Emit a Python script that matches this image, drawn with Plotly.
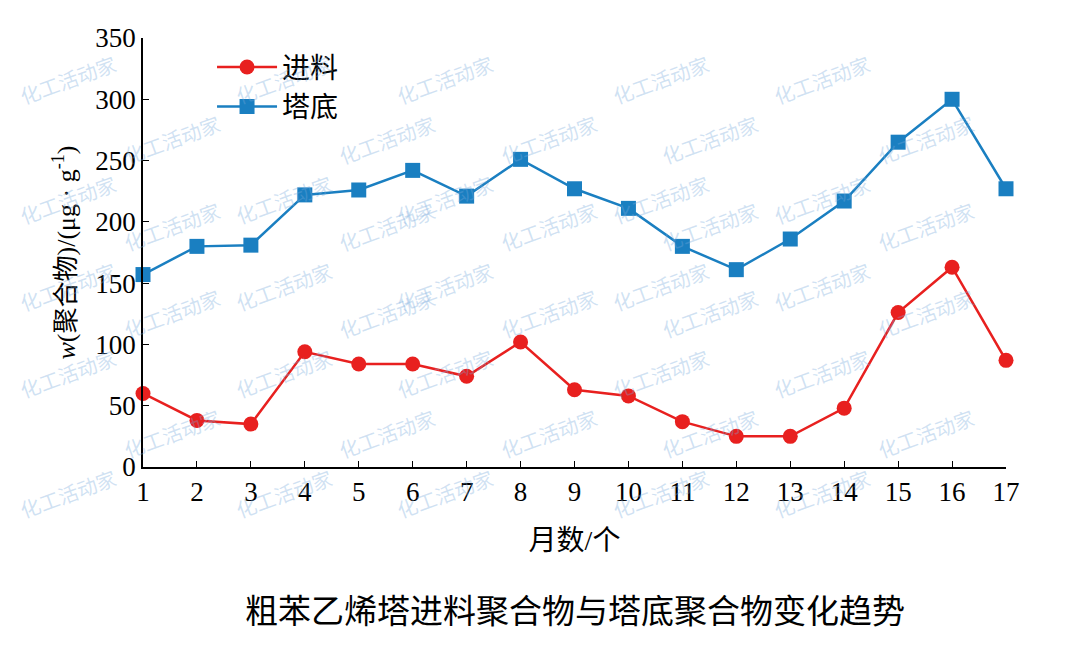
import plotly.graph_objects as go

months = list(range(1, 18))
feed = [60, 38, 35, 94, 84, 84, 74, 102, 63, 58, 37, 25, 25, 48, 126, 163, 87]
bottom = [157, 180, 181, 222, 226, 242, 221, 251, 227, 211, 180, 161, 186, 217, 265, 300, 227]

serif = "Liberation Serif, Noto Sans CJK SC"
fig = go.Figure()
fig.add_trace(go.Scatter(x=months, y=feed, name="进料", mode="lines+markers", cliponaxis=False,
                         line=dict(color="#e8201f", width=2.5),
                         marker=dict(symbol="circle", size=15, color="#e8201f")))
fig.add_trace(go.Scatter(x=months, y=bottom, name="塔底", mode="lines+markers", cliponaxis=False,
                         line=dict(color="#1a7fc1", width=2.5),
                         marker=dict(symbol="square", size=15, color="#1a7fc1")))

# watermarks
marks = []
for row, yy in enumerate([0.98, 0.84, 0.70, 0.56, 0.42, 0.28, 0.14, 0.0, -0.14]):
    off = (row % 2) * 0.12
    for xx in [-0.05, 0.20, 0.45, 0.70, 0.95]:
        marks.append(dict(x=xx + off - 0.1, y=yy, xref="paper", yref="paper",
                          text="化工活动家", showarrow=False, textangle=-20,
                          font=dict(size=20, color="rgba(120,170,220,0.35)",
                                    family="Noto Sans CJK SC")))
marks.append(dict(x=0.5, y=-0.33, xref="paper", yref="paper", yanchor="middle",
                  text="粗苯乙烯塔进料聚合物与塔底聚合物变化趋势",
                  showarrow=False, font=dict(size=33, color="black", family="Noto Sans CJK SC")))

fig.update_layout(
    width=1080, height=648, plot_bgcolor="white", paper_bgcolor="white",
    margin=dict(l=135, r=82, t=30, b=189),
    showlegend=True,
    legend=dict(x=0.08, y=0.99, bgcolor="rgba(0,0,0,0)", itemwidth=60,
                font=dict(size=28, family="Noto Sans CJK SC", color="black")),
    annotations=marks,
    xaxis=dict(range=[1, 17], tickvals=months, showline=True, linecolor="black", linewidth=1.5,
               ticks="inside", ticklen=6, tickcolor="black", showgrid=False, zeroline=False,
               automargin=False,
               tickfont=dict(size=27, family=serif, color="black"),
               title=dict(text="月数/个", font=dict(size=28, family=serif, color="black"), standoff=24)),
    yaxis=dict(range=[0, 350], dtick=50, showline=True, linecolor="black", linewidth=1.5,
               ticks="inside", ticklen=6, tickcolor="black", showgrid=False, zeroline=False,
               automargin=False,
               tickfont=dict(size=27, family=serif, color="black"),
               title=dict(text="<i>w</i>(聚合物)/(μg · g<sup>-1</sup>)",
                          font=dict(size=26, family=serif, color="black"), standoff=12)),
)
fig.write_html("out.html")
